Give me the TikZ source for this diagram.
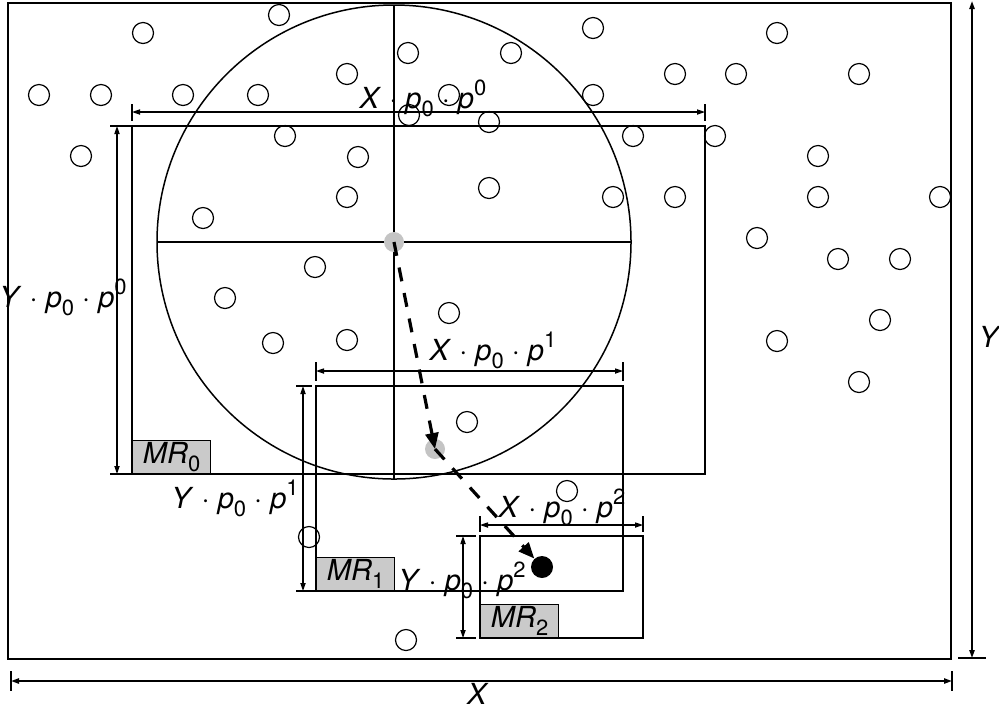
\documentclass[tikz,border=0pt]{standalone}
\usepackage{fontspec}
\setmainfont{TeX Gyre Heros}
\usepackage{tikz}
\usetikzlibrary{arrows.meta}
\definecolor{cprobe}{HTML}{C4C4C4}
\definecolor{cbox}{HTML}{CACACA}
\newcommand{\dsub}[1]{\raisebox{-0.28em}{\fontsize{11}{11}\selectfont #1}}
\newcommand{\dsup}[1]{\raisebox{0.42em}{\fontsize{11}{11}\selectfont #1}}
\newcommand{\dimtxt}[3]{\textit{#1} · \textit{p}\dsub{#2} · \textit{p}\dsup{#3}}
\newcommand{\mrtxt}[1]{\textit{MR}\dsub{#1}}

\begin{document}
\begin{tikzpicture}[x=0.5pt,y=-0.5pt,
    font=\fontsize{14.5}{16}\selectfont,
    obj/.style={circle,draw,line width=0.6pt,minimum size=10.5pt,inner sep=0pt},
    area/.style={line width=0.75pt},
    dimline/.style={{Triangle[length=4pt,width=2.6pt]}-{Triangle[length=4pt,width=2.6pt]},line width=0.55pt},
    tick/.style={line width=0.55pt},
    lab/.style={anchor=base,inner sep=0pt},
    mr/.style={draw,fill=cbox,line width=0.6pt,anchor=south west,
               minimum width=39pt,minimum height=16.5pt,inner sep=0pt},
    probe/.style={circle,fill=cprobe,minimum size=10pt,inner sep=0pt},
    robot/.style={circle,fill=black,minimum size=11pt,inner sep=0pt},
    move/.style={-{Triangle[length=8pt,width=6.5pt]},line width=1.6pt,dash pattern=on 7pt off 6pt}]
    \useasboundingbox (0,0) rectangle (999,709);
    \draw[line width=1pt] (8,3) rectangle (951,659);
    \foreach \px/\py [count=\i] in {143/33,279/15,408/53,511/53,347/74,593/28,777/33,
        39/95,101/95,183/95,258/95,449/95,593/95,675/74,736/74,859/74,
        409/115,489/122,285/136,633/136,715/136,81/156,358/157,818/156,
        489/188,347/197,613/197,675/197,818/197,940/197,203/218,757/238,838/259,900/259,
        315/267,225/298,449/313,880/320,273/343,347/340,777/341,859/382,
        467/422,567/491,309/537,406/640}
      \node[obj] (o\i) at (\px,\py) {};
    \draw[area] (394,242) circle[radius=237];
    \draw[area] (158,242) -- (631,242);
    \draw[area] (394,5) -- (394,479);
    \draw[area] (132,126) rectangle (705,474);
    \draw[area] (110,126) -- (132,126) (110,474) -- (132,474);
    \draw[tick] (132,104) -- (132,121) (705,104) -- (705,121);
    \draw[dimline] (132,112) -- (705,112);
    \draw[dimline] (117,126) -- (117,474);
    \draw[area] (316,386) rectangle (623,591);
    \draw[area] (296,386) -- (312,386) (296,591) -- (316,591);
    \draw[tick] (316,362) -- (316,381) (623,362) -- (623,381);
    \draw[dimline] (316,371) -- (623,371);
    \draw[dimline] (303,386) -- (303,591);
    \draw[area] (480,536) rectangle (643,638);
    \draw[area] (456,536) -- (476,536) (456,638) -- (476,638);
    \draw[tick] (480,516) -- (480,532) (643,516) -- (643,532);
    \draw[dimline] (480,525) -- (643,525);
    \draw[dimline] (463,536) -- (463,638);
    \draw[dimline,line width=0.9pt] (11,681) -- (952,681);
    \draw[tick,line width=0.9pt] (11,671) -- (11,691) (952,671) -- (952,691);
    \draw[dimline,line width=0.9pt] (972,658) -- (972,1);
    \draw[tick,line width=0.9pt] (958,658) -- (986,658);
    \node[mr] (mr0) at (132,474) {\mrtxt{0}};
    \node[mr] (mr1) at (316,591) {\mrtxt{1}};
    \node[mr] (mr2) at (480,638) {\mrtxt{2}};
    \node[lab] (l0x) at (423,108) {\dimtxt{X}{0}{0}};
    \node[lab] (l0y) at (63,307)  {\dimtxt{Y}{0}{0}};
    \node[lab] (l1x) at (493,360) {\dimtxt{X}{0}{1}};
    \node[lab] (l1y) at (235,508) {\dimtxt{Y}{0}{1}};
    \node[lab] (l2x) at (562,517) {\dimtxt{X}{0}{2}};
    \node[lab] (l2y) at (462,590) {\dimtxt{Y}{0}{2}};
    \node[lab] (lx)  at (478,704) {\textit{X}};
    \node[lab] (ly)  at (990,347) {\textit{Y}};
    \node[probe] (c0) at (394,242) {};
    \node[probe] (c1) at (435,449) {};
    \node[robot] (c2) at (542,567) {};
    \draw[move] (c0.center) -- (c1.center);
    \draw[move] (c1.center) -- (c2);
  \end{tikzpicture}
\end{document}
